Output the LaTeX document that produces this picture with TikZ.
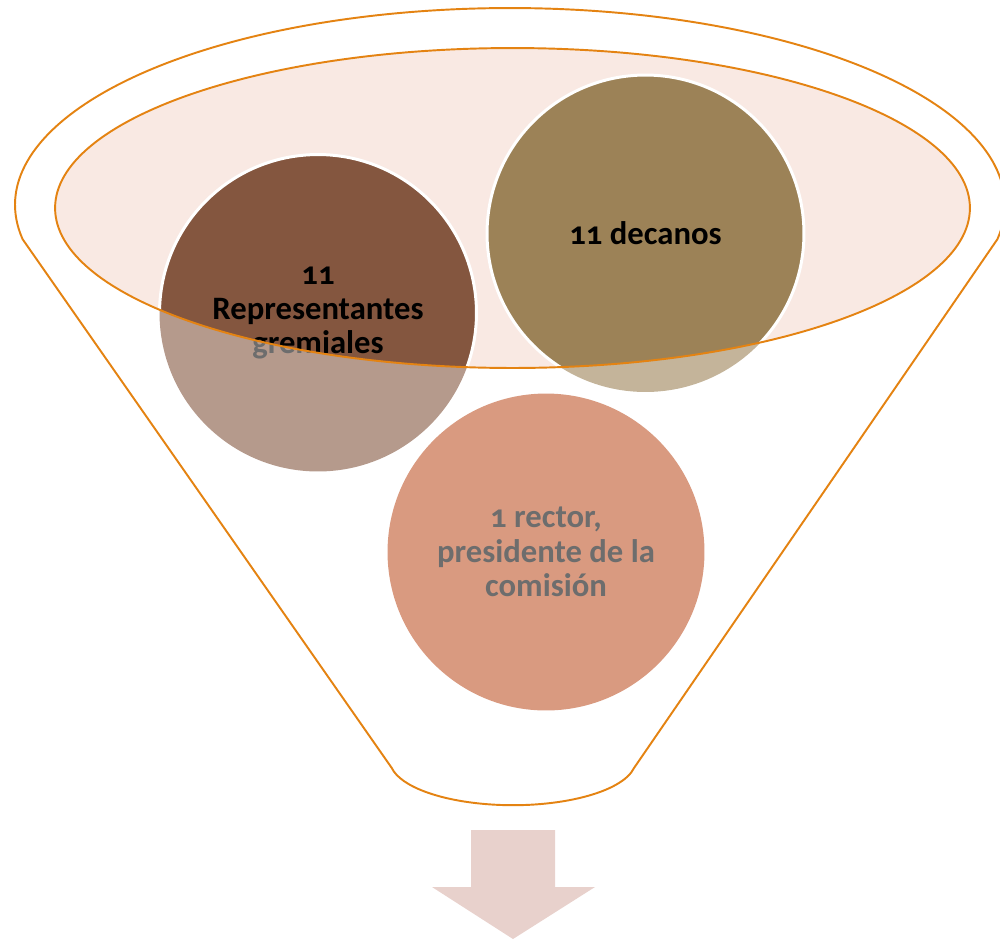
\documentclass[tikz,border=0pt]{standalone}
\usepackage{fontspec}
\setmainfont[Numbers=OldStyle]{Carlito}
\usetikzlibrary{shapes,positioning}
\definecolor{rimorange}{HTML}{E48312}
\definecolor{rimpink}{HTML}{F9E9E3}
\definecolor{gremio}{HTML}{84563F}
\definecolor{decano}{HTML}{9C8257}
\definecolor{rector}{HTML}{D99A80}
\definecolor{textgray}{HTML}{6D6D6D}
\definecolor{flecha}{HTML}{E8D1CC}
\tikzstyle{ball} = [circle, minimum size=6.34cm, inner sep=0pt, align=center, font=\bfseries\fontsize{18.6}{19.6}\selectfont]
\tikzstyle{faded} = [ball, fill opacity=0.6, text opacity=1, text=textgray]
\tikzstyle{rim} = [draw=rimorange, line width=1.1pt]
\begin{document}
\begin{tikzpicture}[x=0.02cm, y=-0.02cm]
      \useasboundingbox (0,0) rectangle (1000,941);
      % funnel
      \draw[rim] (510,205) ++(190:9.9cm and 3.94cm) arc [start angle=190, end angle=-10, x radius=9.9cm, y radius=3.94cm]
            -- (634,768) arc [start angle=350, end angle=190, x radius=2.46cm, y radius=0.9cm] -- cycle;
      \fill[rimpink] (512.5,208) ellipse [x radius=9.15cm, y radius=3.2cm];
      \node[faded, fill=gremio] (rep) at (318,313) {11\\Representantes\\gremiales};
      \node[faded, fill=decano] (dec) at (645.5,233.5) {11 decanos};
      \begin{scope}
      \clip (512.5,208) ellipse [x radius=9.15cm, y radius=3.2cm];
      \node[ball, fill=gremio, draw=white, line width=1.7pt] (repin) at (318,313) {11\\Representantes\\gremiales};
      \node[ball, fill=decano, draw=white, line width=1.7pt] (decin) at (645.5,233.5) {11 decanos};
      \end{scope}
      \draw[rim] (512.5,208) ellipse [x radius=9.15cm, y radius=3.2cm];
      \node[ball, fill=rector, text=textgray] (rec) at (546,552) {1 rector,\\presidente de la\\comisión};
      % arrow
      \fill[flecha] (471,830) -- (555,830) -- (555,887) -- (595,887) -- (513,939) -- (432,887) -- (471,887) -- cycle;
\end{tikzpicture}
\end{document}
